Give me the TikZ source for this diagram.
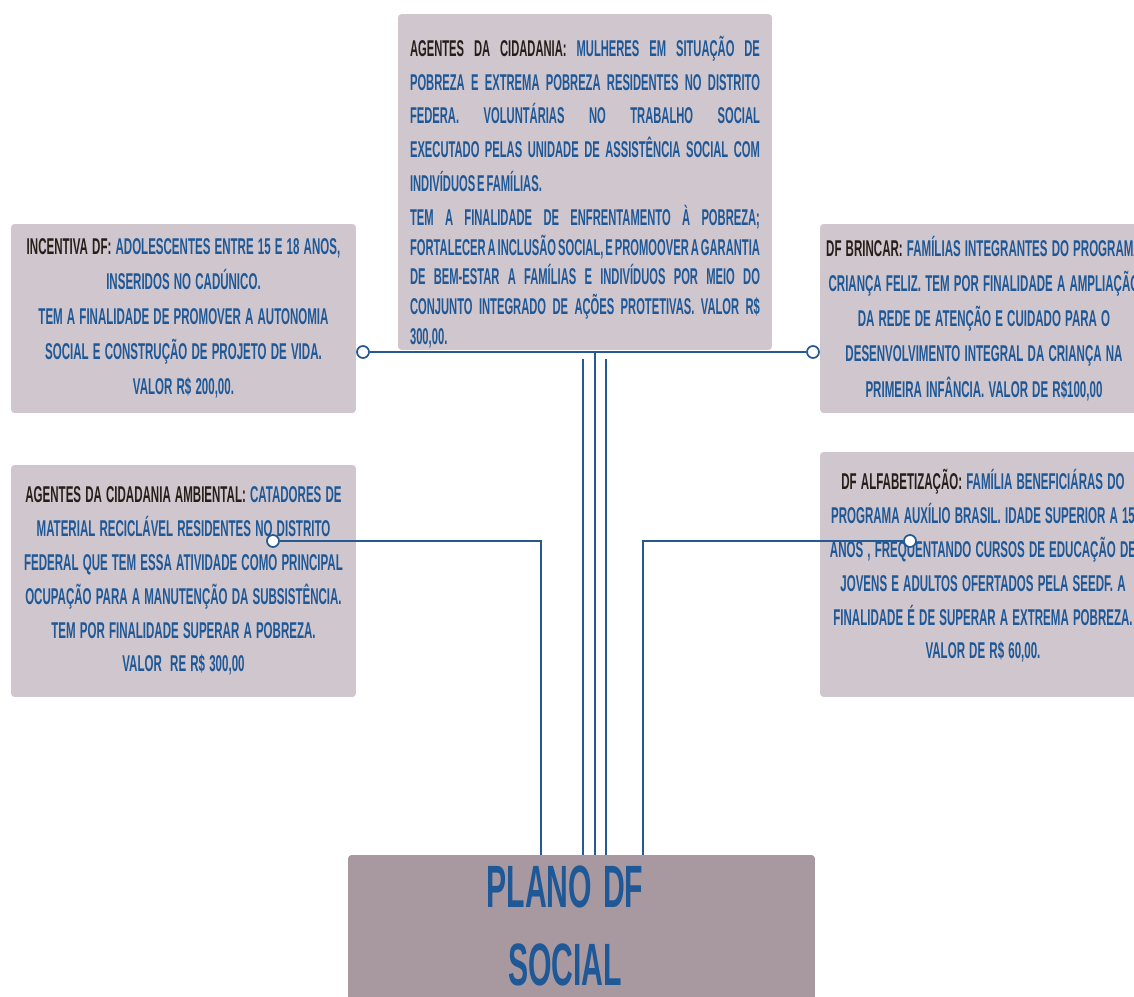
\documentclass[tikz,border=0pt]{standalone}
\usepackage{fontspec}
\newfontfamily\boxfont[FakeStretch=0.505,WordSpace=1.3]{Liberation Sans}
\newfontfamily\topfont[FakeStretch=0.49,WordSpace=0.6]{Liberation Sans}
\usetikzlibrary{positioning}
\definecolor{boxpink}{RGB}{208,198,206}
\definecolor{planofill}{RGB}{168,152,160}
\definecolor{txtblue}{RGB}{30,88,150}
\definecolor{lineblue}{RGB}{36,90,145}
\definecolor{lblcol}{RGB}{40,30,25}
\newcommand{\lbl}[1]{{\color{lblcol}#1}}
\hyphenpenalty=10000
\exhyphenpenalty=10000

\begin{document}
\begin{tikzpicture}[x=0.02cm,y=-0.02cm,
    infobox/.style={fill=boxpink, rounded corners=2pt, text=txtblue,
        font=\boxfont\bfseries\fontsize{13}{20}\selectfont,
        inner xsep=0pt, inner ysep=0pt, align=center},
    dot/.style={circle, draw=lineblue, fill=white, line width=1pt,
        minimum size=0.24cm, inner sep=0pt},
    link/.style={draw=lineblue, line width=1.1pt},
    trunk/.style={draw=lineblue, line width=1.6pt},
    drop/.style={draw=lineblue, line width=0.9pt}]
        \useasboundingbox (0,0) rectangle (1134,997);
        \clip (0,0) rectangle (1134,997);

        % Boxes
        \node [infobox, align=justify, text width=7cm, minimum width=7.48cm,
            minimum height=6.72cm, font=\topfont\bfseries\fontsize{13}{19.3}\selectfont]
            (agentes) at (585,182)
            {\noindent\lbl{AGENTES DA CIDADANIA:} MULHERES EM SITUAÇÃO DE\linebreak
            POBREZA E EXTREMA POBREZA RESIDENTES NO DISTRITO\linebreak
            FEDERA. VOLUNTÁRIAS NO TRABALHO SOCIAL\linebreak
            EXECUTADO PELAS UNIDADE DE ASSISTÊNCIA SOCIAL COM\linebreak
            INDIVÍDUOS E FAMÍLIAS.\par
            \fontsize{13}{17}\selectfont\vspace{2pt}\noindent
            TEM A FINALIDADE DE ENFRENTAMENTO À POBREZA;\linebreak
            FORTALECER A INCLUSÃO SOCIAL, E PROMOOVER A GARANTIA\linebreak
            DE BEM-ESTAR A FAMÍLIAS E INDIVÍDUOS POR MEIO DO\linebreak
            CONJUNTO INTEGRADO DE AÇÕES PROTETIVAS. VALOR R\$\linebreak
            300,00.\par\vspace{-0.4cm}};
        \node [infobox, minimum width=6.9cm, minimum height=3.78cm]
            (incentiva) at (183.5,318.5)
            {\lbl{INCENTIVA DF:} ADOLESCENTES ENTRE 15 E 18 ANOS,\\
            INSERIDOS NO CADÚNICO.\\
            TEM A FINALIDADE DE PROMOVER A AUTONOMIA\\
            SOCIAL E CONSTRUÇÃO DE PROJETO DE VIDA.\\
            VALOR R\$ 200,00.};
        \node [infobox, minimum width=6.56cm, minimum height=3.78cm]
            (brincar) at (984,318.5)
            {\lbl{DF BRINCAR:} FAMÍLIAS INTEGRANTES DO PROGRAMA\\
            CRIANÇA FELIZ. TEM POR FINALIDADE A AMPLIAÇÃO\\
            DA REDE DE ATENÇÃO E CUIDADO PARA O\\
            DESENVOLVIMENTO INTEGRAL DA CRIANÇA NA\\
            PRIMEIRA INFÂNCIA. VALOR DE R\$100,00};
        \node [infobox, minimum width=6.9cm, minimum height=4.64cm,
            font=\boxfont\bfseries\fontsize{13}{19.3}\selectfont]
            (ambiental) at (183.5,581)
            {\lbl{AGENTES DA CIDADANIA AMBIENTAL:} CATADORES DE\\
            MATERIAL RECICLÁVEL RESIDENTES NO DISTRITO\\
            FEDERAL QUE TEM ESSA ATIVIDADE COMO PRINCIPAL\\
            OCUPAÇÃO PARA A MANUTENÇÃO DA SUBSISTÊNCIA.\\
            TEM POR FINALIDADE SUPERAR A POBREZA.\\
            VALOR\ \ RE R\$ 300,00};
        \node [infobox, minimum width=6.52cm, minimum height=4.9cm,
            font=\boxfont\bfseries\fontsize{13}{19.3}\selectfont]
            (alfabetizacao) at (983,574.5)
            {\lbl{DF ALFABETIZAÇÃO:} FAMÍLIA BENEFICIÁRAS DO\\
            PROGRAMA AUXÍLIO BRASIL. IDADE SUPERIOR A 15\\
            ANOS , FREQUENTANDO CURSOS DE EDUCAÇÃO DE\\
            JOVENS E ADULTOS OFERTADOS PELA SEEDF. A\\
            FINALIDADE É DE SUPERAR A EXTREMA POBREZA.\\
            VALOR DE R\$ 60,00.\\[-0.26cm]};
        \node [fill=planofill, rounded corners=2pt, minimum width=9.34cm,
            minimum height=3.2cm] (plano) at (581.5,935) {};
        \node [text=txtblue, align=center,
            font=\boxfont\bfseries\fontsize{34}{44}\selectfont]
            (titulo) at (565,926) {PLANO DF\\SOCIAL};

        % Connectors
        \node [dot] (c1) at (363,352) {};
        \node [dot] (c2) at (813,352) {};
        \node [dot] (c3) at (273,541) {};
        \node [dot] (c4) at (910,541) {};
        \coordinate (inL) at (583,855);
        \coordinate (inM) at (595,855);
        \coordinate (inR) at (606,855);
        \coordinate (dropL) at (541,855);
        \coordinate (dropR) at (643,855);

        \draw [link] (c1) -- (c2);
        \draw [trunk] (inM |- c1) -- (inM);
        \draw [trunk] (inL |- c1.south) -- (inL);
        \draw [trunk] (inR |- c1.south) -- (inR);
        \draw [drop] (c3) -- (c3 -| dropL) -- (dropL);
        \draw [drop] (c4) -- (c4 -| dropR) -- (dropR);

\end{tikzpicture}
\end{document}
